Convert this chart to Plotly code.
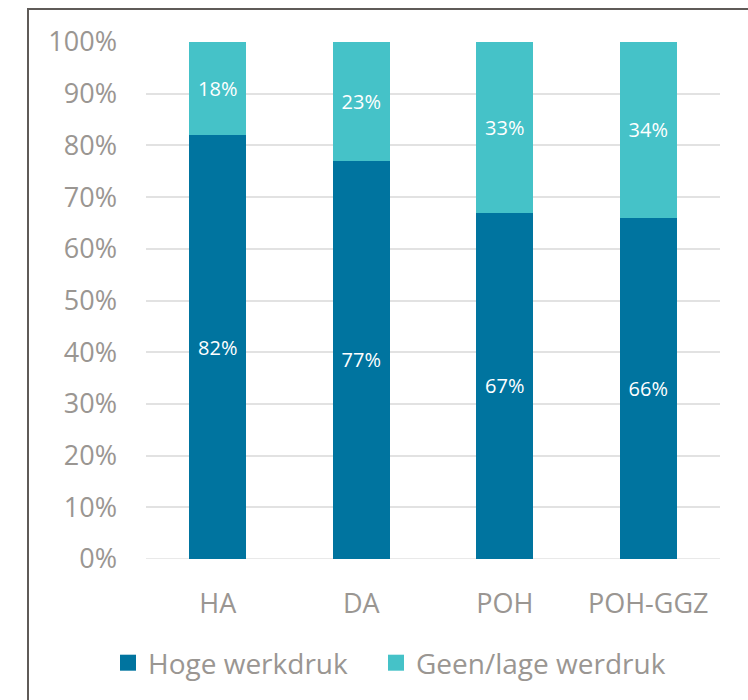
import plotly.graph_objects as go

categories = ["HA", "DA", "POH", "POH-GGZ"]
hoge = [82, 77, 67, 66]
geen = [18, 23, 33, 34]
series_names = ["Hoge werkdruk", "Geen/lage werdruk"]
colors = ["#00749F", "#45C2C8"]

FONT = "Open Sans"
TICK_COLOR = "#9a9692"

fig = go.Figure()
for name, vals, col in [(series_names[0], hoge, colors[0]), (series_names[1], geen, colors[1])]:
    fig.add_trace(go.Bar(
        x=categories, y=[v / 100 for v in vals], name=name,
        marker=dict(color=col, line=dict(width=0)),
        text=[f"{v}%" for v in vals], textposition="inside",
        insidetextanchor="middle",
        textfont=dict(color="white", size=20, family=FONT),
        hoverinfo="skip", showlegend=False,
    ))
# legend entries with larger square symbols (one legend box per entry)
for name, col, lg in zip(series_names, colors, ["legend", "legend2"]):
    fig.add_trace(go.Scatter(
        x=[None], y=[None], mode="markers", name=name, legend=lg,
        marker=dict(symbol="square", size=18, color=col),
    ))

W, H = 748, 700
L, R, T, B = 146, 28, 42, 141
pw, ph = W - L - R, H - T - B

def px(x):
    return (x - L) / pw

def py(y):
    return (H - B - y) / ph

legend_common = dict(orientation="h", xanchor="left", yanchor="middle",
                     font=dict(size=28, color=TICK_COLOR, family=FONT),
                     bgcolor="rgba(0,0,0,0)")

fig.update_layout(
    width=W, height=H, barmode="stack", bargap=0.6,
    margin=dict(l=L, r=R, t=T, b=B, autoexpand=False),
    paper_bgcolor="white", plot_bgcolor="white",
    font=dict(family=FONT, color=TICK_COLOR),
    showlegend=True,
    legend=dict(x=px(108), y=py(663), **legend_common),
    legend2=dict(x=px(376), y=py(663), **legend_common),
    yaxis=dict(range=[0, 1], tickvals=[i / 10 for i in range(11)],
               tickformat=".0%", showgrid=True, gridcolor="#e2e2e2", gridwidth=1.5,
               zeroline=False, showline=False, ticks="",
               tickfont=dict(size=27, color=TICK_COLOR, family=FONT),
               ticklabelstandoff=28),
    xaxis=dict(showline=False, ticks="", tickfont=dict(size=27, color=TICK_COLOR, family=FONT),
               ticklabelstandoff=26),
    shapes=[dict(type="rect", xref="paper", yref="paper",
                 x0=px(28), x1=px(770), y0=py(730), y1=py(9),
                 line=dict(color="#5f5b58", width=2), fillcolor="rgba(0,0,0,0)", layer="below")],
)
fig.add_shape(type="line", xref="paper", yref="y", x0=0, x1=1, y0=0, y1=0,
              line=dict(color="#e2e2e2", width=1.5), layer="below")

fig.write_html("out.html", config={"displayModeBar": False},
               post_script="document.body.style.margin='0';document.body.style.overflow='hidden';")
